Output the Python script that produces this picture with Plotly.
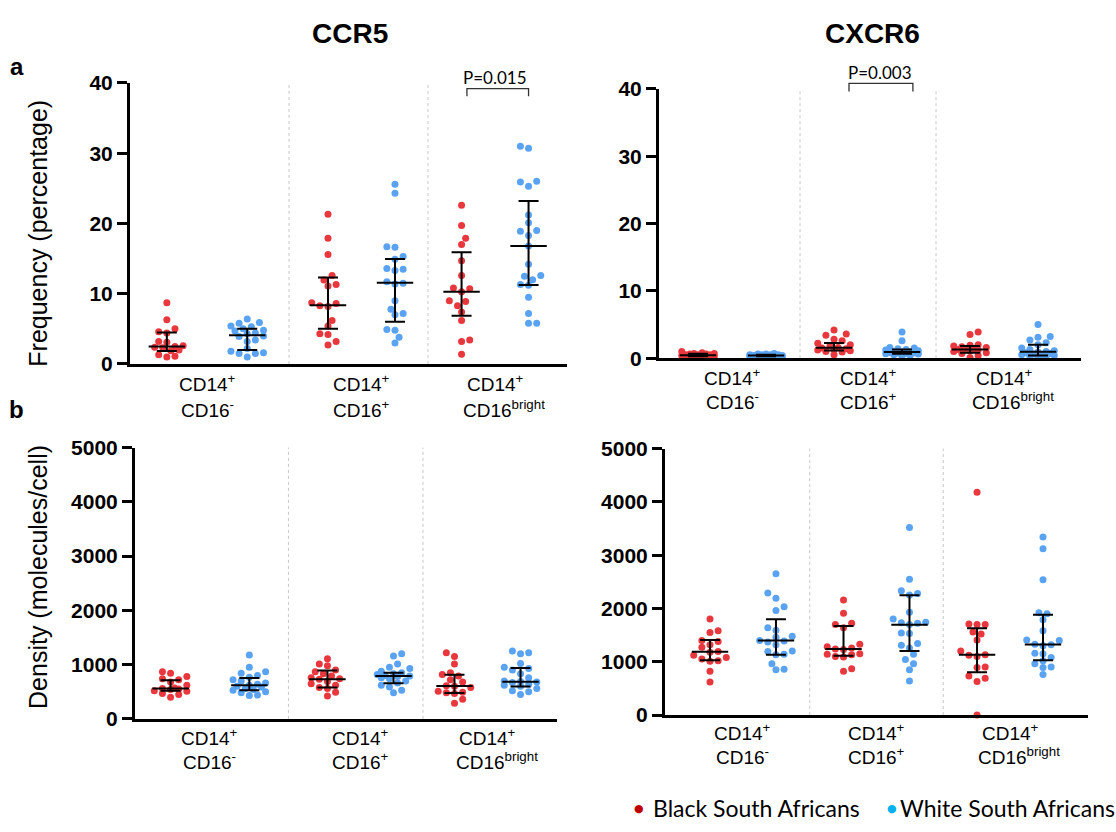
import numpy as np
import plotly.graph_objects as go

W, H = 1116, 832

# ---------------- DATA ----------------
cat_line1 = ["CD14<sup>+</sup>", "CD14<sup>+</sup>", "CD14<sup>+</sup>"]
cat_line2 = ["CD16<sup>-</sup>", "CD16<sup>+</sup>", "CD16<sup>bright</sup>"]
series_names = ["Black South Africans", "White South Africans"]

# a) CCR5 frequency (%)
ccr5_freq_black = [
    [8.7, 6.3, 5.0, 4.6, 4.4, 3.2, 3.1, 2.6, 2.5, 2.4, 2.3, 2.0, 1.9, 1.3, 1.1, 1.0],
    [21.3, 17.9, 15.6, 12.6, 11.95, 11.3, 11.1, 8.7, 8.6, 8.3, 8.2, 6.2, 5.4, 4.3, 4.2, 3.2, 2.7],
    [22.6, 19.7, 17.9, 17.0, 14.7, 12.6, 10.8, 10.7, 10.3, 9.0, 8.9, 8.3, 7.4, 6.2, 3.4, 3.2, 1.4],
]
ccr5_freq_white = [
    [6.4, 5.9, 5.8, 5.4, 5.3, 5.0, 4.8, 4.7, 4.4, 4.3, 4.0, 3.9, 3.4, 3.2, 2.2, 1.8, 1.6, 1.5, 1.5, 1.0],
    [25.6, 24.3, 16.7, 16.6, 15.3, 14.9, 13.6, 13.5, 13.3, 11.7, 11.5, 11.4, 9.0, 7.8, 7.2, 7.0, 4.9, 4.8, 3.8, 3.0],
    [31.0, 30.7, 26.0, 25.9, 25.3, 21.2, 20.1, 19.0, 18.9, 18.3, 16.8, 14.2, 12.6, 12.5, 12.0, 11.3, 11.2, 9.5, 7.2, 5.8, 5.8],
]
ccr5_freq_black_med = [2.5, 8.35, 10.3]
ccr5_freq_black_q1 = [1.85, 5.0, 6.85]
ccr5_freq_black_q3 = [4.5, 12.3, 15.9]
ccr5_freq_white_med = [4.1, 11.55, 16.8]
ccr5_freq_white_q1 = [2.0, 6.0, 11.25]
ccr5_freq_white_q3 = [5.0, 14.95, 23.2]

# a) CXCR6 frequency (%)
cxcr6_freq_black = [
    [1.0, 0.8, 0.7, 0.7, 0.6, 0.6, 0.5, 0.5, 0.5, 0.4, 0.4, 0.4, 0.3, 0.3, 0.2, 0.2],
    [4.2, 3.6, 3.4, 2.8, 2.6, 2.2, 2.0, 1.8, 1.6, 1.5, 1.4, 1.3, 1.2, 1.1, 1.0, 0.9, 0.5],
    [3.9, 3.5, 2.0, 1.9, 1.8, 1.7, 1.6, 1.4, 1.3, 1.3, 1.2, 1.1, 1.0, 0.8, 0.7, 0.4, 0.1],
]
cxcr6_freq_white = [
    [0.7, 0.6, 0.6, 0.5, 0.5, 0.5, 0.5, 0.4, 0.4, 0.4, 0.4, 0.4, 0.3, 0.3, 0.3, 0.3, 0.2, 0.2, 0.2, 0.1],
    [3.9, 2.6, 1.6, 1.5, 1.4, 1.3, 1.2, 1.1, 1.0, 0.95, 0.9, 0.85, 0.8, 0.75, 0.7, 0.65, 0.6, 0.5, 0.4, 0.3],
    [5.0, 3.2, 3.1, 2.7, 2.3, 2.0, 1.5, 1.3, 1.1, 1.0, 0.9, 0.8, 0.7, 0.6, 0.5, 0.5, 0.4, 0.3, 0.2, 0.1],
]
cxcr6_freq_black_med = [0.45, 1.55, 1.3]
cxcr6_freq_black_q1 = [0.3, 1.15, 0.8]
cxcr6_freq_black_q3 = [0.65, 2.25, 1.8]
cxcr6_freq_white_med = [0.4, 0.9, 0.95]
cxcr6_freq_white_q1 = [0.3, 0.65, 0.4]
cxcr6_freq_white_q3 = [0.5, 1.3, 2.0]

# b) CCR5 density (molecules/cell)
ccr5_dens_black = [
    [870, 840, 780, 740, 720, 680, 620, 570, 560, 550, 540, 520, 510, 470, 450, 400],
    [1110, 1010, 980, 900, 870, 830, 790, 760, 740, 730, 690, 650, 620, 580, 560, 490, 420],
    [1220, 1150, 1010, 850, 820, 790, 720, 680, 610, 600, 580, 510, 490, 480, 470, 360, 290],
]
ccr5_dens_white = [
    [1180, 950, 870, 840, 800, 770, 720, 700, 660, 640, 620, 600, 590, 560, 540, 530, 500, 480, 440, 430],
    [1200, 1160, 1010, 950, 930, 880, 850, 830, 820, 800, 790, 780, 760, 740, 700, 660, 620, 590, 530, 480],
    [1250, 1220, 1200, 1020, 950, 930, 900, 830, 760, 700, 690, 680, 670, 640, 620, 600, 560, 520, 500, 450],
]
ccr5_dens_black_med = [560, 732, 607]
ccr5_dens_black_q1 = [518, 577, 476]
ccr5_dens_black_q3 = [714, 893, 815]
ccr5_dens_white_med = [619, 792, 685]
ccr5_dens_white_q1 = [530, 655, 595]
ccr5_dens_white_q3 = [756, 851, 940]

# b) CXCR6 density (molecules/cell)
cxcr6_dens_black = [
    [1800, 1580, 1550, 1400, 1380, 1320, 1270, 1190, 1180, 1120, 1080, 1050, 1020, 1010, 820, 620],
    [2160, 1910, 1720, 1700, 1640, 1330, 1280, 1260, 1240, 1230, 1150, 1140, 1130, 1100, 1090, 870, 820],
    [4180, 1710, 1700, 1700, 1560, 1520, 1410, 1200, 1130, 1120, 1100, 900, 890, 730, 690, 630, 0],
]
cxcr6_dens_white = [
    [2650, 2290, 2190, 2030, 1960, 1640, 1590, 1480, 1460, 1400, 1390, 1370, 1320, 1200, 1190, 1140, 1130, 960, 860, 850],
    [3520, 2550, 2330, 2280, 2250, 1930, 1800, 1740, 1730, 1720, 1700, 1540, 1530, 1340, 1310, 1260, 1140, 1040, 960, 850, 640],
    [3340, 3120, 2540, 1920, 1900, 1790, 1580, 1410, 1400, 1330, 1320, 1300, 1160, 1150, 1080, 1020, 960, 900, 890, 760],
]
cxcr6_dens_black_med = [1185, 1240, 1130]
cxcr6_dens_black_q1 = [1027, 1112, 802]
cxcr6_dens_black_q3 = [1410, 1670, 1628]
cxcr6_dens_white_med = [1397, 1695, 1324]
cxcr6_dens_white_q1 = [1130, 1203, 1027]
cxcr6_dens_white_q3 = [1798, 2248, 1883]

# ---------------- STYLE / LAYOUT ----------------
RED = "#E8383E"
BLUE = "#5AA3F2"
LEG_RED = "#C00000"
LEG_BLUE = "#00B0F0"
FONT = "Liberation Sans, Arial, sans-serif"
FONT2 = "Lato, Carlito, sans-serif"
DOT = 7
DIAM = 7.4
MAXSPREAD = 19  # px
LINE2_SHIFT = [0, 0, 9]  # px, 'bright' label sits right of centre

panels = [
    dict(box=(130, 567, 73, 362), ymax=40, tick=10, pos=[0, 1.153, 2.15], off=[0.30, 0.25, 0.25],
         xr=[-0.575, 2.687], seps=[0.612, 1.649], lab=(19, 45),
         black=ccr5_freq_black, white=ccr5_freq_white,
         bstat=(ccr5_freq_black_med, ccr5_freq_black_q1, ccr5_freq_black_q3),
         wstat=(ccr5_freq_white_med, ccr5_freq_white_q1, ccr5_freq_white_q3),
         pval=dict(text="P=0.015", g=2, top=39.2, leg=38.1, txt=40.8, dx0=0.04, dx1=0.0, dt=0.0)),
    dict(box=(659, 1081, 79, 356), ymax=40, tick=10, pos=[0, 1, 2], off=[0.25, 0.25, 0.25],
         xr=[-0.537, 2.566], seps=[0.5, 1.5], lab=(19, 43),
         black=cxcr6_freq_black, white=cxcr6_freq_white,
         bstat=(cxcr6_freq_black_med, cxcr6_freq_black_q1, cxcr6_freq_black_q3),
         wstat=(cxcr6_freq_white_med, cxcr6_freq_white_q1, cxcr6_freq_white_q3),
         pval=dict(text="P=0.003", g=1, top=40.8, leg=39.6, txt=42.4, dx0=0.11, dx1=0.08, dt=0.09)),
    dict(box=(135, 557, 448, 727), ymax=5000, tick=1000, pos=[0, 1.185, 2.185], off=[0.31, 0.26, 0.26],
         xr=[-0.59, 2.732], seps=[0.618, 1.677], lab=(18, 42),
         black=ccr5_dens_black, white=ccr5_dens_white,
         bstat=(ccr5_dens_black_med, ccr5_dens_black_q1, ccr5_dens_black_q3),
         wstat=(ccr5_dens_white_med, ccr5_dens_white_q1, ccr5_dens_white_q3),
         pval=None),
    dict(box=(665, 1088, 449, 723), ymax=5000, tick=1000, pos=[0, 1, 2], off=[0.247, 0.247, 0.247],
         xr=[-0.584, 2.584], seps=[0.5, 1.5], lab=(17, 41),
         black=cxcr6_dens_black, white=cxcr6_dens_white,
         bstat=(cxcr6_dens_black_med, cxcr6_dens_black_q1, cxcr6_dens_black_q3),
         wstat=(cxcr6_dens_white_med, cxcr6_dens_white_q1, cxcr6_dens_white_q3),
         pval=None),
]


def swarm(values, center, xppu, yppu):
    """Simple beeswarm layout in pixel space, limited to +-MAXSPREAD px."""
    vals = np.asarray(values, dtype=float)
    order = np.argsort(vals)
    placed = []
    xs = np.zeros(len(vals))
    step = DIAM * 0.55
    flip = 1
    nmax = int(MAXSPREAD // step)
    for idx in order:
        ypx = vals[idx] * yppu
        cands = [0.0]
        for j in range(1, nmax + 1):
            cands += [flip * j * step, -flip * j * step]
        best, bestd = 0.0, -1.0
        chosen = None
        for c in cands:
            d = min([((c - px) ** 2 + (ypx - py) ** 2) ** 0.5 for px, py in placed] or [1e9])
            if d >= DIAM * 0.95:
                chosen = c
                break
            if d > bestd:
                best, bestd = c, d
        if chosen is None:
            chosen = best
        if chosen != 0:
            flip = -flip
        placed.append((chosen, ypx))
        xs[idx] = center + chosen / xppu
    return xs


fig = go.Figure()
layout = dict(width=W, height=H, margin=dict(l=0, r=0, t=0, b=0), autosize=False,
              paper_bgcolor="white", plot_bgcolor="white", showlegend=False)
shapes = []
annotations = []

for n, p in enumerate(panels, start=1):
    s = "" if n == 1 else str(n)
    xa, ya = "x" + s, "y" + s
    x0, x1, ytop, ybot = p["box"]
    xppu = (x1 - x0) / (p["xr"][1] - p["xr"][0])
    yppu = (ybot - ytop) / p["ymax"]
    layout["xaxis" + s] = dict(domain=[x0 / W, x1 / W], range=p["xr"], anchor=ya,
                               showline=True, linecolor="black", linewidth=3,
                               showticklabels=False, ticks="", showgrid=False, zeroline=False)
    layout["yaxis" + s] = dict(domain=[1 - ybot / H, 1 - ytop / H], range=[0, p["ymax"]], anchor=xa,
                               tickvals=list(range(0, p["ymax"] + 1, p["tick"])),
                               ticks="outside", ticklen=10, tickwidth=3, tickcolor="black",
                               showline=True, linecolor="black", linewidth=3,
                               showgrid=False, zeroline=False,
                               tickfont=dict(family=FONT, size=21, color="black", weight="bold"))
    for sp in p["seps"]:
        shapes.append(dict(type="line", xref=xa, yref=ya + " domain", x0=sp, x1=sp, y0=0, y1=1,
                           line=dict(color="#c8c8c8", width=1, dash="dot"), layer="below"))
    for g in range(3):
        for key, col, sign in (("black", RED, -1), ("white", BLUE, 1)):
            cx = p["pos"][g] + sign * p["off"][g]
            vals = p[key][g]
            fig.add_trace(go.Scatter(x=swarm(vals, cx, xppu, yppu), y=vals, mode="markers",
                                     xaxis=xa, yaxis=ya, cliponaxis=False, hoverinfo="y",
                                     marker=dict(size=DOT, color=col, line=dict(width=0))))
        for stat, sign in (("bstat", -1), ("wstat", 1)):
            cx = p["pos"][g] + sign * p["off"][g]
            med, q1, q3 = (arr[g] for arr in p[stat])
            fig.add_trace(go.Scatter(x=[cx], y=[med], mode="markers", xaxis=xa, yaxis=ya,
                                     cliponaxis=False, hoverinfo="skip",
                                     marker=dict(symbol="line-ew", size=26, color="black",
                                                 line=dict(width=2, color="black")),
                                     error_y=dict(type="data", symmetric=False, array=[q3 - med],
                                                  arrayminus=[med - q1], color="black",
                                                  thickness=2, width=10)))
        annotations.append(dict(xref=xa, yref=ya + " domain", x=p["pos"][g], y=0, yanchor="middle",
                                yshift=-p["lab"][0], text=cat_line1[g], showarrow=False,
                                font=dict(family=FONT, size=19, color="black")))
        annotations.append(dict(xref=xa, yref=ya + " domain", x=p["pos"][g], y=0, yanchor="middle",
                                yshift=-p["lab"][1], xshift=LINE2_SHIFT[g], text=cat_line2[g],
                                showarrow=False, font=dict(family=FONT, size=19, color="black")))
    pv = p["pval"]
    if pv:
        g = pv["g"]
        bx0 = p["pos"][g] - p["off"][g] + pv["dx0"]
        bx1 = p["pos"][g] + p["off"][g] + pv["dx1"]
        yt, yl = pv["top"] / p["ymax"], pv["leg"] / p["ymax"]
        shapes.append(dict(type="path", xref=xa, yref=ya + " domain",
                           path=f"M {bx0},{yl} L {bx0},{yt} L {bx1},{yt} L {bx1},{yl}",
                           line=dict(color="#333333", width=1.3)))
        annotations.append(dict(xref=xa, yref=ya + " domain", x=p["pos"][g] + pv["dt"],
                                y=pv["txt"] / p["ymax"], yanchor="middle", text=pv["text"],
                                showarrow=False, font=dict(family=FONT2, size=17, color="black")))


def paper(xp, yp):
    return xp / W, 1 - yp / H


for txt, (px, py), size in (("<b>CCR5</b>", (350, 22), 28), ("<b>CXCR6</b>", (872, 22), 28),
                            ("<b>a</b>", (17, 56), 24), ("<b>b</b>", (16, 409), 24)):
    x, y = paper(px, py)
    annotations.append(dict(xref="paper", yref="paper", x=x, y=y, xanchor="center", yanchor="middle",
                            text=txt, showarrow=False, font=dict(family=FONT, size=size, color="black")))
for txt, (px, py) in (("Frequency (percentage)", (38, 228)), ("Density (molecules/cell)", (38, 581))):
    x, y = paper(px, py)
    annotations.append(dict(xref="paper", yref="paper", x=x, y=y, xanchor="center", yanchor="middle",
                            text=txt, textangle=-90, showarrow=False,
                            font=dict(family=FONT, size=25, color="black")))

# legend (bottom right)
for name, col, dot_x, txt_x in ((series_names[0], LEG_RED, 639, 651), (series_names[1], LEG_BLUE, 892, 898)):
    x, y = paper(dot_x, 819)
    annotations.append(dict(xref="paper", yref="paper", x=x, y=y, xanchor="center", yanchor="middle",
                            text="●", showarrow=False, font=dict(family="DejaVu Sans", size=11, color=col)))
    x, y = paper(txt_x, 819)
    annotations.append(dict(xref="paper", yref="paper", x=x, y=y, xanchor="left", yanchor="middle",
                            text=name, showarrow=False, font=dict(family=FONT2, size=23, color="black")))

layout["shapes"] = shapes
layout["annotations"] = annotations
fig.update_layout(**layout)
fig.write_html("out.html")
